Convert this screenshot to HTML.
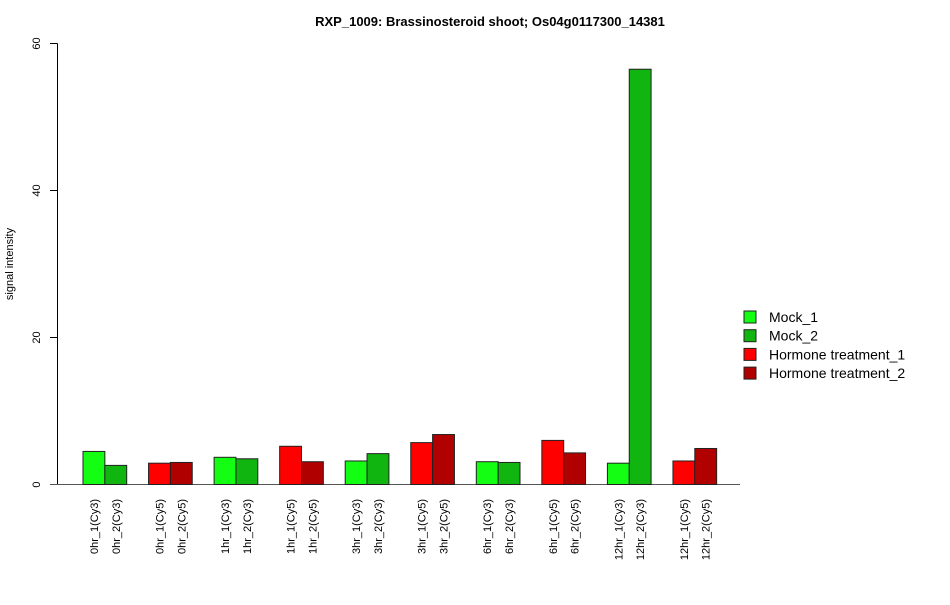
<!DOCTYPE html>
<html><head><meta charset="utf-8"><style>
body{margin:0;background:#fff}
svg text{font-family:"Liberation Sans",Arial,sans-serif}
</style></head><body>
<svg id="chart" width="950" height="600" xmlns="http://www.w3.org/2000/svg">
<text x="490" y="26" text-anchor="middle" font-size="13" font-weight="bold">RXP_1009: Brassinosteroid shoot; Os04g0117300_14381</text>
<text transform="translate(13,264) rotate(-90)" text-anchor="middle" font-size="11">signal intensity</text>
<g id="yaxis"></g>
<g id="bars"></g>
<g id="xlabels"></g>
<g id="legend"></g>
</svg>
<script>
const categories=["0hr_1(Cy3)","0hr_2(Cy3)","0hr_1(Cy5)","0hr_2(Cy5)","1hr_1(Cy3)","1hr_2(Cy3)","1hr_1(Cy5)","1hr_2(Cy5)","3hr_1(Cy3)","3hr_2(Cy3)","3hr_1(Cy5)","3hr_2(Cy5)","6hr_1(Cy3)","6hr_2(Cy3)","6hr_1(Cy5)","6hr_2(Cy5)","12hr_1(Cy3)","12hr_2(Cy3)","12hr_1(Cy5)","12hr_2(Cy5)"];
const values=[4.5,2.6,2.9,3.0,3.7,3.5,5.2,3.1,3.2,4.2,5.7,6.8,3.1,3.0,6.0,4.3,2.9,56.5,3.2,4.9];
const seriesIndex=[0,1,2,3,0,1,2,3,0,1,2,3,0,1,2,3,0,1,2,3];
const seriesNames=["Mock_1","Mock_2","Hormone treatment_1","Hormone treatment_2"];
const seriesColors=["#13fe13","#10b510","#ff0000","#b00000"];
const yTicks=[0,20,40,60];
const NS="http://www.w3.org/2000/svg";
const y0=484.5,yPx=7.35,x0=83,bw=21.85;
function yS(v){return y0-v*yPx;}
function xS(i){return x0+(i+Math.floor(i/2))*bw;}
function mk(t,a,p){const e=document.createElementNS(NS,t);for(const k in a)e.setAttribute(k,a[k]);p.appendChild(e);return e;}
const ya=document.getElementById('yaxis');
let l=mk('line',{x1:57.5,x2:57.5,y1:yS(0),y2:yS(60),stroke:'#000'},ya);


yTicks.forEach(t=>{
 const tk=mk('line',{x1:50,x2:57.5,y1:yS(t),y2:yS(t),stroke:'#000'},ya);
 
 
 const tx=mk('text',{transform:`translate(40,${yS(t)}) rotate(-90)`,'text-anchor':'middle','font-size':11},ya);
 
 
 tx.textContent=t;
});
let xl=mk('line',{x1:50,x2:740,y1:y0,y2:y0,stroke:'#555'},ya);


const bg=document.getElementById('bars'),lg=document.getElementById('xlabels');
values.forEach((v,i)=>{
 const x=xS(i);
 const r=mk('rect',{x:x,y:yS(v),width:bw,height:v*yPx,fill:seriesColors[seriesIndex[i]],stroke:'#222','stroke-width':1},bg);
 
 
 const t=mk('text',{transform:`translate(${x+bw/2+4},499) rotate(-90)`,'text-anchor':'end','font-size':11},lg);
 
 
 t.textContent=categories[i];
});
const leg=document.getElementById('legend');
seriesNames.forEach((n,i)=>{
 const y=317+i*18.7;
 const r=mk('rect',{x:744,y:y-6,width:12,height:12,fill:seriesColors[i],stroke:'#222'},leg);
 
 
 const t=mk('text',{x:769,y:y+5,'font-size':14},leg);
 
 
 t.textContent=n;
});
</script>
</body></html>
